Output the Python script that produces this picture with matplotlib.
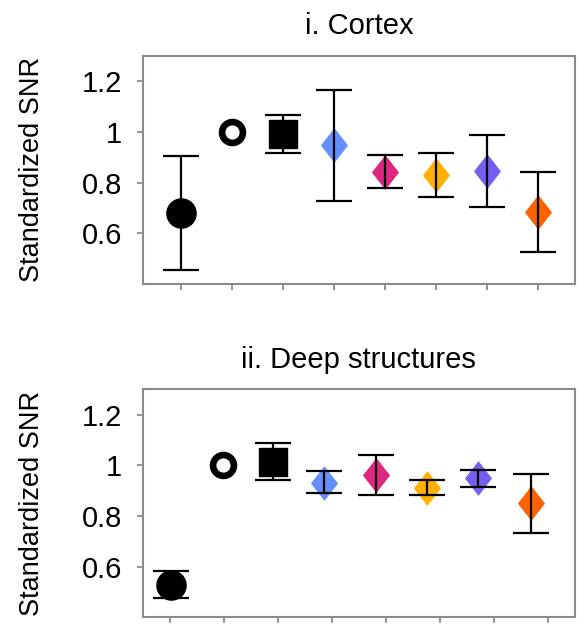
import matplotlib.pyplot as plt
from matplotlib.ticker import FixedLocator, FixedFormatter

plt.rcParams['font.family'] = ['Liberation Sans', 'DejaVu Sans']

# marker style per condition
markers = ['o', 'o', 's', 'dia', 'dia', 'dia', 'dia', 'dia']
face_colors = ['black', 'white', 'black', '#648FFF', '#DC267F', '#FFB000', '#785EF0', '#FE6100']

# panel i. cortex
cortex_x = [1, 2, 3, 4, 5, 6, 7, 8]
cortex_mean = [0.680, 1.0, 0.990, 0.946, 0.841, 0.828, 0.845, 0.683]
cortex_low = [0.454, None, 0.915, 0.726, 0.780, 0.742, 0.704, 0.528]
cortex_high = [0.904, None, 1.068, 1.166, 0.907, 0.915, 0.988, 0.843]

# panel ii. deep structures (points sit slightly off the ticks in the original)
deep_x = [1.02, 1.98, 2.92, 3.86, 4.81, 5.77, 6.71, 7.68]
deep_mean = [0.529, 1.0, 1.012, 0.930, 0.963, 0.911, 0.949, 0.850]
deep_low = [0.476, None, 0.943, 0.890, 0.884, 0.884, 0.916, 0.733]
deep_high = [0.582, None, 1.088, 0.977, 1.042, 0.943, 0.983, 0.967]

tick_pos = [1, 2, 3, 4, 5, 6, 7, 8]
y_ticks = [0.6, 0.8, 1.0, 1.2]
y_labels = ['0.6', '0.8', '1', '1.2']

diamond = [(0, 1), (0.78, 0), (0, -1), (-0.78, 0), (0, 1)]
frame_grey = '#8a8a8a'


def draw_panel(ax, xs, means, lows, highs, title, xlim):
    for i in range(len(xs)):
        m = markers[i]
        if m == 'dia':
            ax.plot(xs[i], means[i], marker=diamond, ms=25, color=face_colors[i],
                    mec='none', zorder=2)
        elif face_colors[i] == 'white':
            ax.plot(xs[i], means[i], marker='o', ms=15, mfc='white', mec='black',
                    mew=4.8, zorder=2)
        else:
            size = 21 if m == 'o' else 20
            ax.plot(xs[i], means[i], marker=m, ms=size, color='black', zorder=2)
        if lows[i] is not None:
            ax.errorbar(xs[i], means[i],
                        yerr=[[means[i] - lows[i]], [highs[i] - means[i]]],
                        fmt='none', ecolor='black', elinewidth=1.6, capsize=13,
                        capthick=1.6, zorder=3)
    ax.set_xlim(*xlim)
    ax.set_ylim(0.4, 1.3)
    ax.xaxis.set_major_locator(FixedLocator(tick_pos))
    ax.set_xticklabels([])
    ax.yaxis.set_major_locator(FixedLocator(y_ticks))
    ax.yaxis.set_major_formatter(FixedFormatter(y_labels))
    ax.tick_params(direction='out', length=4.3, width=1.3, color=frame_grey,
                   labelsize=21, pad=10.5)
    for sp in ax.spines.values():
        sp.set_color(frame_grey)
        sp.set_linewidth(1.5)
    ax.set_ylabel('Standardized SNR', fontsize=19.5)
    ax.yaxis.set_label_coords(-0.226, 0.5)
    ax.set_title(title, fontsize=21, pad=15.5)


fig = plt.figure(figsize=(5.81, 6.27), dpi=100)
ax1 = fig.add_axes([0.2456, 0.547, 0.744, 0.3642])
ax2 = fig.add_axes([0.2456, 0.0155, 0.744, 0.3636])

draw_panel(ax1, cortex_x, cortex_mean, cortex_low, cortex_high, 'i. Cortex', (0.256, 8.718))
draw_panel(ax2, deep_x, deep_mean, deep_low, deep_high, 'ii. Deep structures', (0.5, 8.5))

fig.savefig('out.png', dpi=100)
